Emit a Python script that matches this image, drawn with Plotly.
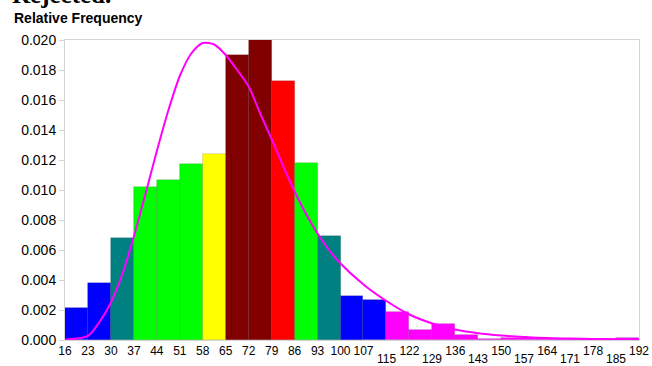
import plotly.graph_objects as go

# ---- data ----
edge_labels = [16, 23, 30, 37, 44, 51, 58, 65, 72, 79, 86, 93, 100, 107,
               115, 122, 129, 136, 143, 150, 157, 164, 171, 178, 185, 192]
rel_freq = [0.00215, 0.00378, 0.00680, 0.01020, 0.01070, 0.01175, 0.01240,
            0.01900, 0.02000, 0.01730, 0.01180, 0.00695, 0.00291, 0.00267,
            0.00185, 0.00069, 0.00109, 0.00031, 0.00006, 0.00016, 0.00013,
            0.00009, 0.00007, 0.00005, 0.00015]
bar_colors = ["#0000FF", "#0000FF", "#008080", "#00FF00", "#00FF00", "#00FF00",
              "#FFFF00", "#800000", "#800000", "#FF0000", "#00FF00", "#008080",
              "#0000FF", "#0000FF", "#FF00FF", "#FF00FF", "#FF00FF", "#FF00FF",
              "#FF00FF", "#FF00FF", "#FF00FF", "#FF00FF", "#FF00FF", "#FF00FF",
              "#FF00FF"]
# fitted density curve, sampled at bin positions (bin index units)
curve_pos = [0, 0.5, 1, 1.5, 2, 2.5, 3, 3.5, 4, 4.5, 5, 5.5, 6, 6.5, 7, 7.5,
             8, 8.5, 9, 9.5, 10, 10.5, 11, 11.5, 12, 13, 14, 15, 16, 17, 18,
             19, 20, 21, 22, 23, 24, 25]
curve_val = [0.00002, 0.00010, 0.00027, 0.00120, 0.00250, 0.00440, 0.00690,
             0.00970, 0.01260, 0.01530, 0.01760, 0.01910, 0.01980, 0.01970,
             0.01900, 0.01800, 0.01690, 0.01510, 0.01340, 0.01160, 0.00990,
             0.00840, 0.00710, 0.00600, 0.00510, 0.00370, 0.00260, 0.00170,
             0.00110, 0.00070, 0.00045, 0.00030, 0.00020, 0.00013, 0.00010,
             0.00007, 0.00005, 0.00004]
y_ticks = [0.000, 0.002, 0.004, 0.006, 0.008, 0.010, 0.012, 0.014, 0.016,
           0.018, 0.020]

n_bins = len(rel_freq)
centers = [i + 0.5 for i in range(n_bins)]
upper_idx = [i for i in range(len(edge_labels)) if i < 14 or (i - 14) % 2 == 1]
lower_idx = [i for i in range(len(edge_labels)) if i >= 14 and (i - 14) % 2 == 0]

fig = go.Figure()
fig.add_trace(go.Bar(
    x=centers, y=rel_freq, width=1,
    marker=dict(color=bar_colors, line=dict(color="rgba(0,0,0,0.18)", width=0.7)),
    hoverinfo="skip", showlegend=False))
fig.add_trace(go.Scatter(
    x=curve_pos, y=curve_val, mode="lines",
    line=dict(color="#FF00FF", width=2, shape="spline", smoothing=0.8),
    hoverinfo="skip", showlegend=False))

tick_font = dict(family="Liberation Sans, Arial", size=12, color="black")

annotations = []
for i in lower_idx:
    annotations.append(dict(x=i, y=0, xref="x", yref="paper", yanchor="middle",
                            xanchor="center", yshift=-19, text=str(edge_labels[i]),
                            showarrow=False, font=tick_font))
annotations.append(dict(x=-53 / 574, y=1.073, xref="paper", yref="paper",
                        xanchor="left", yanchor="middle", text="<b>Relative Frequency</b>",
                        showarrow=False,
                        font=dict(family="Liberation Sans, Arial", size=14, color="black")))
annotations.append(dict(x=-55 / 574, y=1.1, xref="paper", yref="paper",
                        xanchor="left", yanchor="bottom", text="<b>Rejected.</b>",
                        showarrow=False,
                        font=dict(family="Liberation Serif, Times New Roman", size=25,
                                  color="black")))

fig.update_layout(
    width=652, height=366,
    margin=dict(l=65, r=13, t=40, b=26),
    paper_bgcolor="white", plot_bgcolor="white",
    bargap=0,
    annotations=annotations,
    xaxis=dict(range=[0, n_bins], tickmode="array",
               tickvals=upper_idx, ticktext=[str(edge_labels[i]) for i in upper_idx],
               tickfont=tick_font, tickangle=0, automargin=False,
               showgrid=False, zeroline=False,
               showline=True, linecolor="#d4d4d4", linewidth=1, mirror=True,
               ticks="", ticklen=0),
    yaxis=dict(range=[0, 0.020], tickmode="array", tickvals=y_ticks,
               ticktext=[f"{v:.3f}" for v in y_ticks],
               tickfont=dict(family="Liberation Sans, Arial", size=14, color="black"),
               automargin=False, showgrid=False, zeroline=False,
               showline=True, linecolor="#d4d4d4", linewidth=1, mirror=True,
               ticks="outside", ticklen=5, tickcolor="#d4d4d4"),
)

fig.write_html("out.html")
